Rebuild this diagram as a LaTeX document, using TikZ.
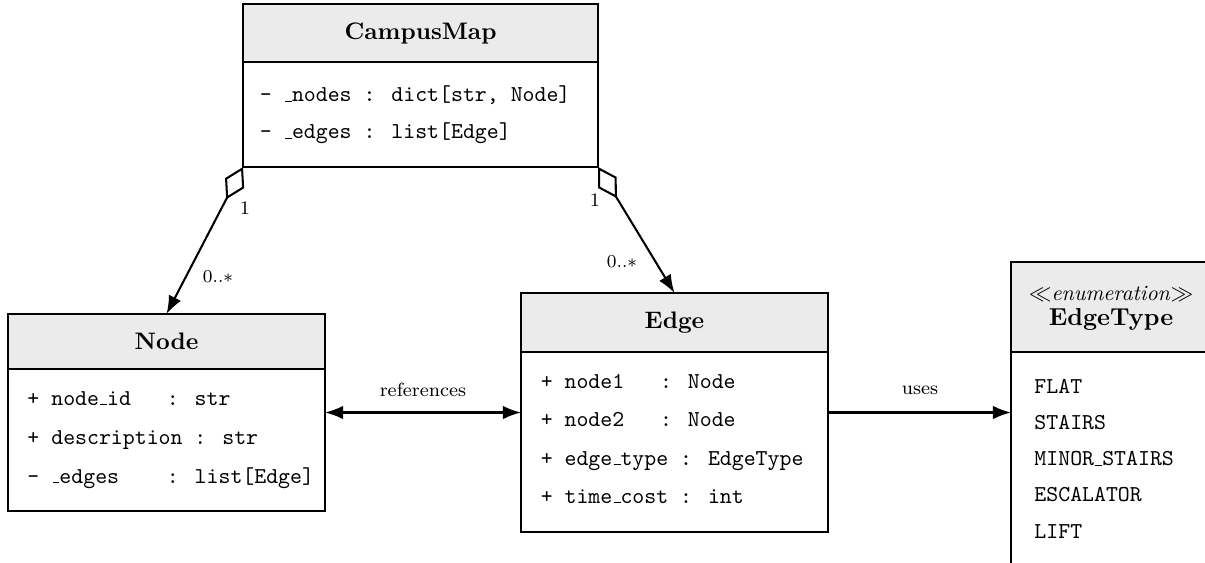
\documentclass[tikz,border=0pt]{standalone}
\usetikzlibrary{arrows.meta,calc}

% one drawing unit
\newcommand\pxl{0.44pt}
% narrow low rule used as underscore in identifiers
\newcommand\us{\leavevmode\kern.06em\vbox{\hrule width .3em}}

\tikzset{
  frame/.style={draw, line width=0.9pt, inner sep=0pt, outer sep=0pt, anchor=north west},
  head/.style={frame, fill=black!8, font=\fontsize{10.5}{12.5}\selectfont\bfseries},
  attr/.style={anchor=base west, inner sep=0pt, font=\ttfamily},
  lbl/.style={font=\fontsize{8.4}{10}\selectfont, inner sep=0pt},
  conn/.style={line width=0.9pt},
  tip/.tip={Latex[length=8pt,width=6pt]},
  agg/.style={conn, {Diamond[open,length=16pt,width=9.5pt]}-tip},
  assoc/.style={conn, -tip},
  both/.style={conn, tip-tip},
}

\begin{document}
\begin{tikzpicture}[x=\pxl, y=-\pxl]
\useasboundingbox (0,0) rectangle (1205,562);
\clip (0,0) rectangle (1205,562);

% CampusMap
\node[frame, minimum width={355*\pxl}, minimum height={163*\pxl}] (cm) at (243,4) {};
\node[head, minimum width={355*\pxl}, minimum height={58*\pxl}] (cmh) at (cm.north west) {CampusMap};
\node[attr] (cm1) at (259.5,101.5) {- \us nodes : dict[str, Node]};
\node[attr] (cm2) at (259.5,138.5) {- \us edges : list[Edge]};

% Node
\node[frame, minimum width={317*\pxl}, minimum height={197*\pxl}] (nd) at (8,314) {};
\node[head, minimum width={317*\pxl}, minimum height={55*\pxl}] (ndh) at (nd.north west) {Node};
\node[attr] (nd1) at (27,405) {+ node\us id\ \ \ : str};
\node[attr] (nd2) at (27,444) {+ description : str};
\node[attr] (nd3) at (27,483) {- \us edges\ \ \ \ : list[Edge]};

% Edge
\node[frame, minimum width={307*\pxl}, minimum height={239*\pxl}] (ed) at (521,293) {};
\node[head, minimum width={307*\pxl}, minimum height={59*\pxl}] (edh) at (ed.north west) {Edge};
\node[attr] (ed1) at (540.3,388) {+ node1\ \ \ : Node};
\node[attr] (ed2) at (540.3,426) {+ node2\ \ \ : Node};
\node[attr] (ed3) at (540.3,465) {+ edge\us type : EdgeType};
\node[attr] (ed4) at (540.3,503) {+ time\us cost : int};

% EdgeType
\node[frame, minimum width={200*\pxl}, minimum height={303*\pxl}] (et) at (1011,262) {};
\node[head, minimum width={200*\pxl}, minimum height={90*\pxl}] (eth) at (et.north west) {};
\node[anchor=base, inner sep=0pt, font=\fontsize{9.6}{11}\selectfont] (ets) at (1111,300) {$\ll$\textit{enumeration}$\gg$};
\node[anchor=base, inner sep=0pt, font=\fontsize{10.8}{13}\selectfont\bfseries] (ett) at (1111,325) {EdgeType};
\node[attr] (et1) at (1034,393) {FLAT};
\node[attr] (et2) at (1034,429.25) {STAIRS};
\node[attr] (et3) at (1034,465.5) {MINOR\us STAIRS};
\node[attr] (et4) at (1034,501.75) {ESCALATOR};
\node[attr] (et5) at (1034,538) {LIFT};

% connectors
\draw[agg] (cm.south west) -- (nd.north);
\draw[agg] (cm.south east) -- (ed.north);
\draw[both] (nd.east) -- (ed.west);
\draw[assoc] (ed.east) -- (ed.east -| et.west);

% multiplicities and labels
\node[lbl] (m1) at (245,208) {1};
\node[lbl] (m2) at (218,277) {$0..*$};
\node[lbl] (m3) at (595,200) {1};
\node[lbl] (m4) at (622,262) {$0..*$};
\node[lbl] (lr) at (423,390) {references};
\node[lbl] (lu) at (920,390) {uses};
\end{tikzpicture}
\end{document}
